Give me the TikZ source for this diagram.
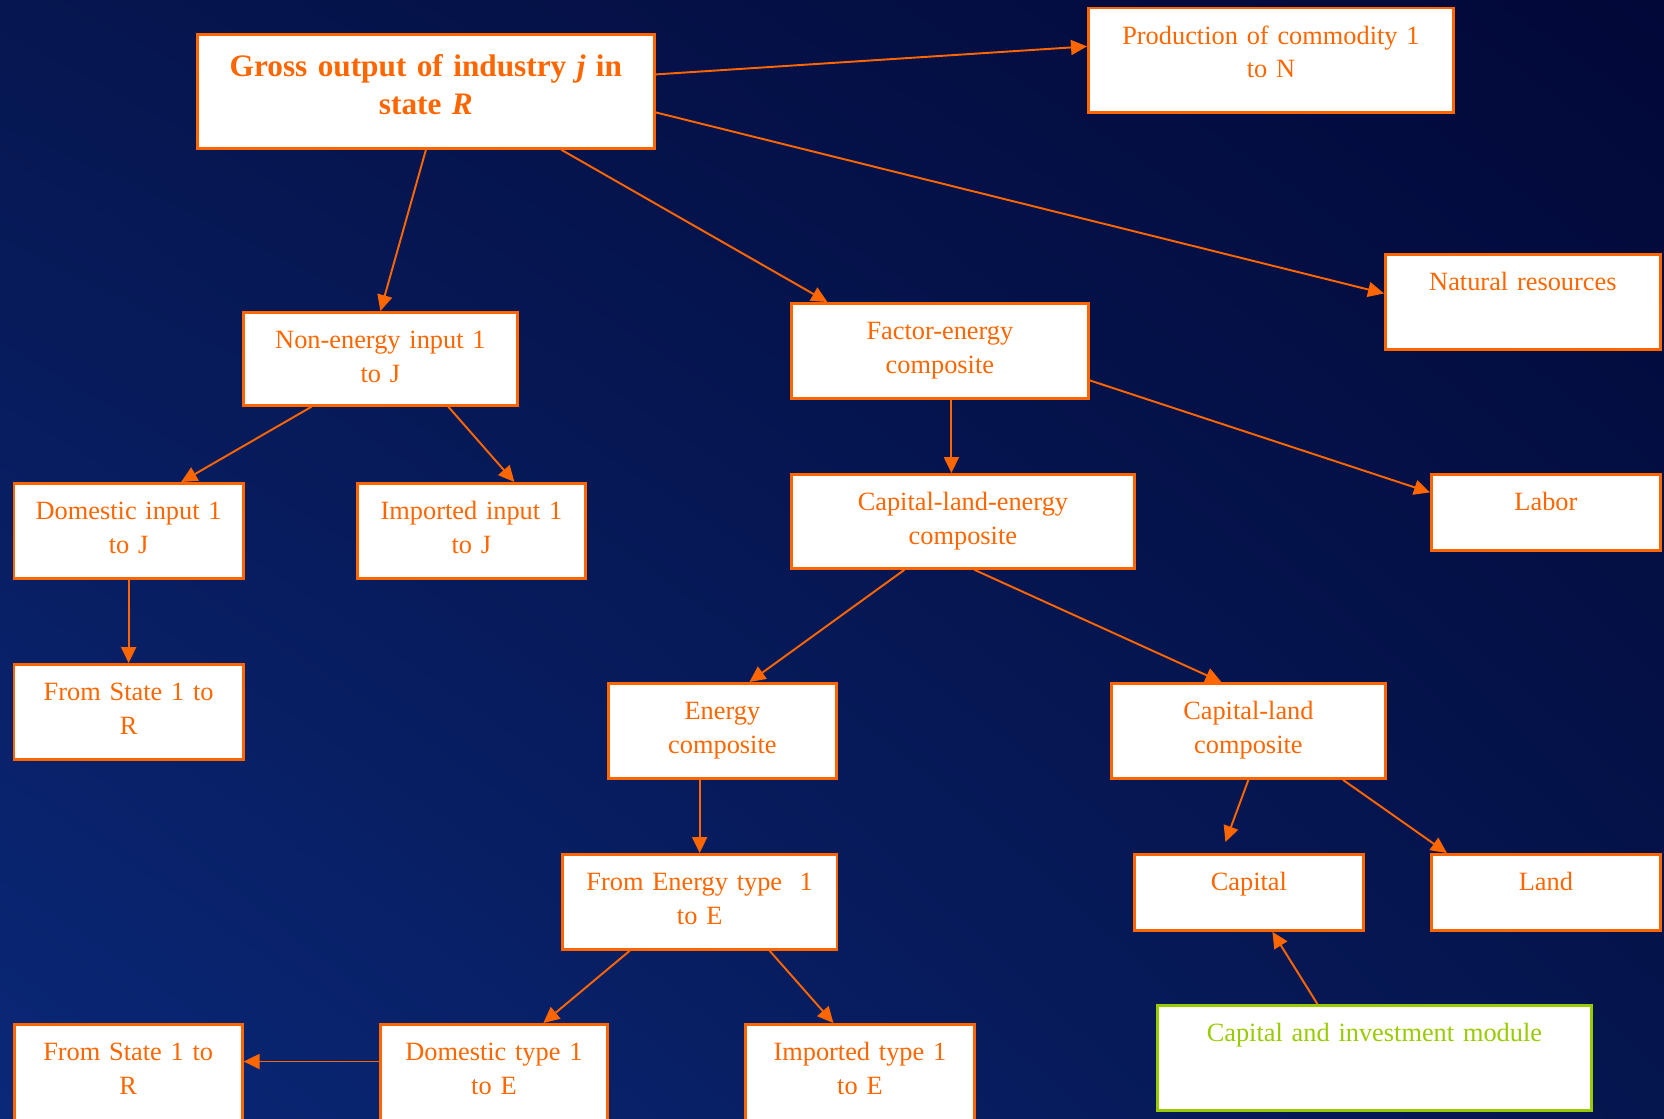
\documentclass[tikz,border=0pt]{standalone}
\usepackage{fontspec}
\setmainfont{Liberation Serif}
\usepackage{tikz}
\usetikzlibrary{arrows.meta,positioning,calc,shadings}

\definecolor{boxorange}{HTML}{FF6600}
\definecolor{modgreen}{HTML}{99CC00}
\definecolor{bgul}{HTML}{061650}
\definecolor{bgur}{HTML}{020838}
\definecolor{bgll}{HTML}{0A2878}
\definecolor{bglr}{HTML}{05154E}

\begin{document}
\begin{tikzpicture}[
  box/.style 2 args={draw=boxorange, line width=1.6pt, fill=white, text=boxorange,
    anchor=north west, inner sep=0pt, align=center, text width=#1, minimum width=#1,
    text height=0.73cm, text depth=#2, font=\fontsize{15}{19}\selectfont},
  arr/.style={-{Triangle[length=0.32cm, width=0.3cm]}, draw=boxorange, line width=1.1pt}
]
\useasboundingbox (0,0) rectangle (33.28,-22.36);
\clip (0,0) rectangle (33.28,-22.36);
\shade[upper left=bgul, upper right=bgur, lower left=bgll, lower right=bglr] (0,0) rectangle (33.28,-22.36);

% top level
\node[box={9.14cm}{1.44cm}, text height=0.84cm, font=\fontsize{17.8}{21.4}\selectfont\bfseries]
  (gross) at (3.92,-0.66) {Gross output of industry \textit{j} in\\state \textit{R}};
\node[box={7.30cm}{1.36cm}] (prod) at (21.74,-0.13) {Production of commodity 1\\to N};
\node[box={5.50cm}{1.17cm}] (natres) at (27.68,-5.06) {Natural resources};

% second level
\node[box={5.48cm}{1.13cm}] (nonen) at (4.84,-6.22) {Non-energy input 1\\to J};
\node[box={5.94cm}{1.17cm}] (facen) at (15.80,-6.04) {Factor-energy\\composite};
\node[box={6.86cm}{1.15cm}] (cle) at (15.80,-9.46) {Capital-land-energy\\composite};
\node[box={4.58cm}{0.79cm}] (labor) at (28.60,-9.46) {Labor};

% intermediate inputs
\node[box={4.59cm}{1.17cm}] (domin) at (0.25,-9.64) {Domestic input 1\\to J};
\node[box={4.56cm}{1.17cm}] (impin) at (7.12,-9.64) {Imported input 1\\to J};
\node[box={4.59cm}{1.17cm}] (state1) at (0.25,-13.26) {From State 1 to\\R};

% energy and capital-land
\node[box={4.56cm}{1.17cm}] (encomp) at (12.14,-13.64) {Energy\\composite};
\node[box={5.48cm}{1.17cm}] (capland) at (22.20,-13.64) {Capital-land\\composite};
\node[box={5.49cm}{1.17cm}] (fromen) at (11.22,-17.06) {From Energy type~~1\\to E};
\node[box={4.58cm}{0.79cm}] (capital) at (22.66,-17.06) {Capital};
\node[box={4.58cm}{0.79cm}] (land) at (28.60,-17.06) {Land};
\node[box={8.68cm}{1.37cm}, draw=modgreen, text=modgreen] (capinv) at (23.12,-20.08) {Capital and investment module};

% bottom row
\node[box={4.56cm}{1.27cm}] (state2) at (0.256,-20.46) {From State 1 to\\R};
\node[box={4.54cm}{1.27cm}] (domty) at (7.58,-20.46) {Domestic type 1\\to E};
\node[box={4.58cm}{1.27cm}] (impty) at (14.88,-20.46) {Imported type 1\\to E};

\draw[arr] ([yshift=0.34cm]gross.east) -- ([yshift=0.275cm]prod.west);
\draw[arr] ([yshift=-0.42cm]gross.east) -- ([yshift=0.17cm]natres.west);
\draw[arr] (gross.south) -- (nonen.north);
\draw[arr] ([xshift=2.71cm]gross.south) -- ([xshift=-2.25cm]facen.north);
\draw[arr] ([yshift=-0.59cm]facen.east) -- ([yshift=0.40cm]labor.west);
\draw[arr] ([xshift=0.23cm]facen.south) -- ([xshift=0.23cm]facen.south |- cle.north);
\draw[arr] ([xshift=-1.38cm]nonen.south) -- ([xshift=1.05cm]domin.north);
\draw[arr] ([xshift=1.36cm]nonen.south) -- ([xshift=0.86cm]impin.north);
\draw[arr] (domin.south) -- (state1.north);
\draw[arr] ([xshift=-1.17cm]cle.south) -- ([xshift=0.54cm]encomp.north);
\draw[arr] ([xshift=0.23cm]cle.south) -- ([xshift=-0.54cm]capland.north);
\draw[arr] (fromen.north |- encomp.south) -- (fromen.north);
\draw[arr] (capland.south) -- ([xshift=-0.47cm, yshift=0.22cm]capital.north);
\draw[arr] ([xshift=1.89cm]capland.south) -- ([xshift=-1.98cm]land.north);
\draw[arr] ([xshift=-1.14cm]capinv.north) -- ([xshift=0.47cm]capital.south);
\draw[arr] ([xshift=-1.40cm]fromen.south) -- ([xshift=0.99cm]domty.north);
\draw[arr] ([xshift=1.40cm]fromen.south) -- ([xshift=-0.53cm]impty.north);
\draw[arr] ([yshift=-0.77cm]domty.north west) -- ([yshift=-0.77cm]state2.north east);
\end{tikzpicture}
\end{document}
